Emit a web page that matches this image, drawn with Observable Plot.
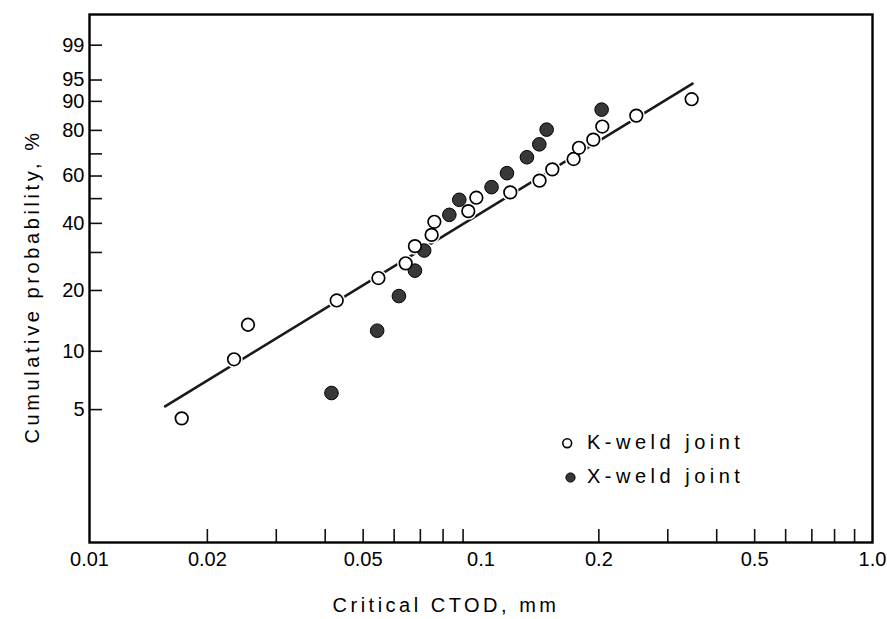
<!DOCTYPE html>
<html>
<head>
<meta charset="utf-8">
<script src="https://cdn.jsdelivr.net/npm/d3@7"></script>
<script src="https://cdn.jsdelivr.net/npm/@observablehq/plot@0.6"></script>
<style>
  html, body { margin: 0; padding: 0; background: #fff; }
  #chart svg { display: block; }
</style>
</head>
<body>
<div id="chart"></div>
<script>
// ---- data ----
const kWeldCTOD = [0.0172, 0.0234, 0.0254, 0.0428, 0.0547, 0.0642, 0.0678, 0.0748, 0.0760, 0.0928, 0.0973, 0.1188, 0.1411, 0.1521, 0.1724, 0.1779, 0.1936, 0.2041, 0.2493, 0.3452];
const kWeldProb = [4.5, 9.1, 13.6, 17.9, 22.9, 26.8, 32.0, 35.8, 40.6, 44.8, 50.4, 52.7, 57.9, 63.0, 67.7, 72.7, 76.2, 81.5, 85.5, 90.6];
const xWeldCTOD = [0.0415, 0.0543, 0.0617, 0.0678, 0.0716, 0.0830, 0.0880, 0.1064, 0.1165, 0.1310, 0.1409, 0.1471, 0.2033];
const xWeldProb = [6.1, 12.7, 18.8, 24.8, 30.6, 43.3, 49.5, 55.0, 61.3, 68.5, 74.2, 80.3, 87.5];
const fitCTOD = [0.0156, 0.347];
const fitProb = [5.2, 94.3];

const xDomain = [0.01, 1.0];
const xLabelTicks = [0.01, 0.02, 0.05, 0.1, 0.2, 0.5, 1.0];
const xLabelText = ["0.01", "0.02", "0.05", "0.1", "0.2", "0.5", "1.0"];
const xMinorTicks = [0.02, 0.03, 0.04, 0.05, 0.06, 0.07, 0.08, 0.09, 0.2, 0.3, 0.4, 0.5, 0.6, 0.7, 0.8, 0.9];
const yDomainPct = [0.99, 99.88];
const yLabelTicks = [5, 10, 20, 40, 60, 80, 90, 95, 99];
const yMinorTicks = [5, 10, 20, 30, 40, 50, 60, 70, 80, 90, 95, 99];

const legendLabels = ["K-weld joint", "X-weld joint"];
const xTitle = "Critical CTOD, mm";
const yTitle = "Cumulative probability, %";

// ---- Weibull probability transform ----
const weib = p => Math.log(-Math.log(1 - p / 100));

const kData = kWeldCTOD.map((x, i) => ({x, p: kWeldProb[i]}));
const xData = xWeldCTOD.map((x, i) => ({x, p: xWeldProb[i]}));
const fitData = fitCTOD.map((x, i) => ({x, p: fitProb[i]}));
const allData = kData.concat(xData);

const W = 887, H = 619;
const mL = 89, mR = 15, mT = 14, mB = 77;
const plotW = W - mL - mR, plotH = H - mT - mB;
const font = "'Liberation Sans', Arial, Helvetica, sans-serif";

const yLabelW = yLabelTicks.map(p => weib(p));

const chart = Plot.plot({
  width: W,
  height: H,
  marginLeft: mL,
  marginRight: mR,
  marginTop: mT,
  marginBottom: mB,
  style: {fontFamily: font, fontSize: "20px", background: "#fff", color: "#000"},
  x: {type: "log", domain: xDomain},
  y: {type: "linear", domain: yDomainPct.map(weib)},
  marks: [
    // inward tick marks
    Plot.tickX(xMinorTicks, {x: d => d, insetTop: plotH - 13, stroke: "#111", strokeWidth: 1.6}),
    Plot.tickY(yMinorTicks, {y: d => weib(d), insetRight: plotW - 13, stroke: "#111", strokeWidth: 1.6}),
    // tick labels
    Plot.axisX(xLabelTicks, {
      tickSize: 0, tickPadding: 9, label: null, fontSize: 20,
      tickFormat: d => xLabelText[xLabelTicks.indexOf(d)]
    }),
    Plot.axisY(yLabelW, {
      tickSize: 0, tickPadding: 5, label: null, fontSize: 20,
      tickFormat: d => String(yLabelTicks[yLabelW.indexOf(d)])
    }),
    // fitted line
    Plot.line(fitData, {x: "x", y: d => weib(d.p), stroke: "#1a1a1a", strokeWidth: 2.6}),
    // white halos (gaps in the line around the points)
    Plot.dot(allData, {x: "x", y: d => weib(d.p), r: 8.6, fill: "#fff", stroke: "none"}),
    // X-weld joint (filled)
    Plot.dot(xData, {x: "x", y: d => weib(d.p), r: 6.8, fill: "#383838", stroke: "#000", strokeWidth: 1}),
    // K-weld joint (open)
    Plot.dot(kData, {x: "x", y: d => weib(d.p), r: 6.3, fill: "#fff", stroke: "#000", strokeWidth: 1.7}),
    // legend
    Plot.dot([legendLabels[0]], {frameAnchor: "top-left", dx: 477.7, dy: 428.7, r: 4.4, fill: "#fff", stroke: "#000", strokeWidth: 1.6}),
    Plot.dot([legendLabels[1]], {frameAnchor: "top-left", dx: 481, dy: 463, r: 4.6, fill: "#383838", stroke: "#000", strokeWidth: 1}),
    Plot.text([legendLabels[0]], {frameAnchor: "top-left", dx: 497.5, dy: 428.5, text: d => d, textAnchor: "start", lineAnchor: "middle", fontSize: 20}),
    Plot.text([legendLabels[1]], {frameAnchor: "top-left", dx: 497.5, dy: 462.5, text: d => d, textAnchor: "start", lineAnchor: "middle", fontSize: 20}),
    // axis titles
    Plot.text([xTitle], {frameAnchor: "bottom", dx: -35, dy: 63, text: d => d, textAnchor: "middle", lineAnchor: "middle", fontSize: 20}),
    Plot.text([yTitle], {frameAnchor: "left", dx: -57, dy: 8, rotate: -90, text: d => d, textAnchor: "middle", lineAnchor: "middle", fontSize: 20}),
    // frame
    Plot.frame({stroke: "#000", strokeWidth: 2.4})
  ]
});

const spacing = new Map([
  [legendLabels[0], "4.5px"],
  [legendLabels[1], "4.5px"],
  [xTitle, "3.5px"],
  [yTitle, "3.6px"]
]);
d3.select(chart).selectAll("text").each(function () {
  const s = spacing.get(this.textContent);
  if (s) this.setAttribute("letter-spacing", s);
});

document.getElementById("chart").appendChild(chart);
</script>
</body>
</html>
